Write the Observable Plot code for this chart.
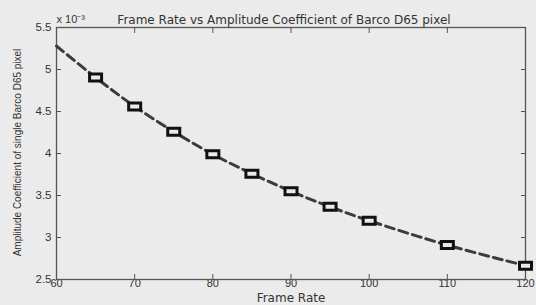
<!DOCTYPE html>
<html>
<head>
<meta charset="utf-8">
<script src="https://cdn.jsdelivr.net/npm/d3@7"></script>
<script src="https://cdn.jsdelivr.net/npm/@observablehq/plot@0.6"></script>
<style>
  html, body { margin: 0; padding: 0; background: #ebebeb; }
  #chart svg { display: block; }
</style>
</head>
<body>
<div id="chart"></div>
<script>
// Frame rates (x) and amplitude coefficients (in units of 1e-3)
const frameRates = [65, 70, 75, 80, 85, 90, 95, 100, 110, 120];
const amplitudes = [4.905, 4.56, 4.26, 3.99, 3.76, 3.55, 3.365, 3.20, 2.91, 2.665];
// Dashed fitted curve, read at these x positions
const curveRates = [60, 65, 70, 75, 80, 85, 90, 95, 100, 110, 120];
const curveValues = [5.28, 4.905, 4.56, 4.26, 3.99, 3.76, 3.55, 3.365, 3.20, 2.91, 2.665];
const xTicks = [60, 70, 80, 90, 100, 110, 120];
const yTicks = [2.5, 3, 3.5, 4, 4.5, 5, 5.5];

const titleText = "Frame Rate vs Amplitude Coefficient of Barco D65 pixel";
const xLabel = "Frame Rate";
const yLabel = "Amplitude Coefficient of single Barco D65 pixel";
const exponentText = "x 10\u207B\u00B3";

const markers = frameRates.map((x, i) => ({x, y: amplitudes[i]}));
const curve = curveRates.map((x, i) => ({x, y: curveValues[i]}));

const rectSymbol = {
  draw(context) {
    context.moveTo(-6, -3.5);
    context.lineTo(6, -3.5);
    context.lineTo(6, 3.5);
    context.lineTo(-6, 3.5);
    context.closePath();
  }
};

const ink = "#333";
const wide = "'DejaVu Sans', 'Liberation Sans', sans-serif";
const chart = Plot.plot({
  width: 536,
  height: 305,
  marginLeft: 56,
  marginRight: 11,
  marginTop: 27,
  marginBottom: 26,
  style: {background: "#ebebeb", fontFamily: "'Liberation Sans', Arial, sans-serif", fontSize: "11px", color: ink},
  x: {domain: [60, 120]},
  y: {domain: [2.5, 5.5]},
  marks: [
    Plot.axisX(xTicks, {anchor: "bottom", tickSize: -5, tickPadding: 5, tickFormat: d => String(d), label: null, stroke: "#555", fill: ink, fontSize: 11}),
    Plot.axisX(xTicks, {anchor: "top", tickSize: -5, tickFormat: () => "", label: null, stroke: "#555"}),
    Plot.axisY(yTicks, {anchor: "left", tickSize: -5, tickPadding: 10, tickFormat: d => String(d), label: null, stroke: "#555", fill: ink, fontSize: 11.5}),
    Plot.axisY(yTicks, {anchor: "right", tickSize: -5, tickFormat: () => "", label: null, stroke: "#555"}),
    Plot.frame({stroke: "#555", strokeWidth: 1.3}),
    Plot.line(curve, {x: "x", y: "y", curve: "catmull-rom", stroke: "#3c3c3c", strokeWidth: 3, strokeDasharray: "9,5"}),
    Plot.dot(markers, {x: "x", y: "y", symbol: rectSymbol, r: 6, stroke: "#111", strokeWidth: 3, fill: "#ebebeb"}),
    Plot.text([titleText], {frameAnchor: "top", dy: -12, dx: -7, fill: ink, fontSize: 12, fontFamily: wide}),
    Plot.text([exponentText], {frameAnchor: "top-left", textAnchor: "start", dx: 0, dy: -12, fill: ink, fontSize: 11}),
    Plot.text([xLabel], {frameAnchor: "bottom", dy: 22, fill: ink, fontSize: 12, fontFamily: wide}),
    Plot.text([yLabel], {frameAnchor: "left", textAnchor: "middle", rotate: -90, dx: -39, dy: -1, fill: ink, fontSize: 10})
  ]
});
document.getElementById("chart").appendChild(chart);
</script>
</body>
</html>
